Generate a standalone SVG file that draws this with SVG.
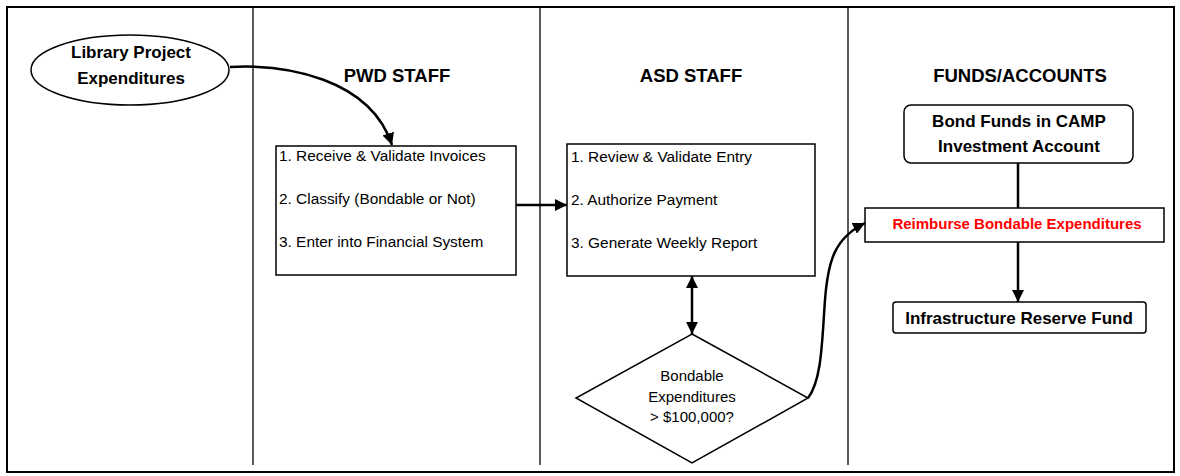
<svg xmlns="http://www.w3.org/2000/svg" width="1180" height="476" viewBox="0 0 1180 476">
<style>
text{font-family:"Liberation Sans",Arial,sans-serif;fill:#000}
.h{font-size:18.5px;font-weight:bold;text-anchor:middle}
.b{font-size:17px;font-weight:bold;text-anchor:middle}
.r{font-size:15.4px}
.c{font-size:15px;text-anchor:middle}
.red{font-size:15px;font-weight:bold;text-anchor:middle;fill:#ff0000}
.shape{fill:#fff;stroke:#000;stroke-width:1.5}
.lane{stroke:#000;stroke-width:1.3;fill:none}
.conn{stroke:#000;stroke-width:2.5;fill:none}
</style>
<defs>
<marker id="ah" markerWidth="12" markerHeight="12" refX="10" refY="5" orient="auto" markerUnits="userSpaceOnUse" viewBox="0 0 10 10">
<path d="M0,0 L10,5 L0,10 z" fill="#000"/>
</marker>
<marker id="as" markerWidth="12" markerHeight="12" refX="10" refY="5" orient="auto-start-reverse" markerUnits="userSpaceOnUse" viewBox="0 0 10 10">
<path d="M0,0 L10,5 L0,10 z" fill="#000"/>
</marker>
</defs>
<rect x="0" y="0" width="1180" height="476" fill="#fff"/>
<g id="frame">
<rect x="7" y="7" width="1167" height="465" fill="none" stroke="#000" stroke-width="2"/>
<line class="lane" x1="253" y1="8" x2="253" y2="465"/>
<line class="lane" x1="540" y1="8" x2="540" y2="465"/>
<line class="lane" x1="848" y1="8" x2="848" y2="465"/>
</g>
<g id="headers">
<text class="h" x="397" y="82">PWD STAFF</text>
<text class="h" x="691" y="82">ASD STAFF</text>
<text class="h" x="1020" y="82">FUNDS/ACCOUNTS</text>
</g>
<g id="library">
<ellipse class="shape" cx="130" cy="70" rx="99" ry="35" stroke-width="1.8"/>
<text class="b" x="131" y="58">Library Project</text>
<text class="b" x="131" y="84">Expenditures</text>
</g>
<g id="pwd">
<rect class="shape" x="276" y="146" width="240" height="129"/>
<text class="r" x="279" y="161">1. Receive &amp; Validate Invoices</text>
<text class="r" x="279" y="204">2. Classify (Bondable or Not)</text>
<text class="r" x="279" y="247">3. Enter into Financial System</text>
</g>
<g id="asd">
<rect class="shape" x="567" y="144" width="248" height="132"/>
<text class="r" x="571" y="162">1. Review &amp; Validate Entry</text>
<text class="r" x="571" y="205">2. Authorize Payment</text>
<text class="r" x="571" y="248">3. Generate Weekly Report</text>
</g>
<g id="decision">
<polygon class="shape" points="692,334 808,398 692,463 576,398"/>
<text class="c" x="692" y="381">Bondable</text>
<text class="c" x="692" y="402">Expenditures</text>
<text class="c" x="692" y="422">&gt; $100,000?</text>
</g>
<g id="bond">
<rect class="shape" x="904" y="105" width="229" height="58" rx="7"/>
<text class="b" x="1019" y="127">Bond Funds in CAMP</text>
<text class="b" x="1019" y="152">Investment Account</text>
</g>
<g id="reimburse">
<rect class="shape" x="865" y="208" width="299" height="34"/>
<text class="red" x="1017" y="229">Reimburse Bondable Expenditures</text>
</g>
<g id="reserve">
<rect class="shape" x="893" y="302" width="253" height="31" rx="3"/>
<text class="b" x="1019" y="324">Infrastructure Reserve Fund</text>
</g>
<g id="connectors">
<path class="conn" d="M230,67 C285,64 370,78 392,145" marker-end="url(#ah)"/>
<path class="conn" d="M516,205 L567,205" marker-end="url(#ah)"/>
<path class="conn" d="M692,276 L692,334" marker-start="url(#as)" marker-end="url(#as)"/>
<path class="conn" d="M808,398 C822,380 822,340 825,300 C828,260 835,238 865,223" marker-end="url(#ah)"/>
<path class="conn" d="M1018,163 L1018,208"/>
<path class="conn" d="M1018,242 L1018,302" marker-end="url(#ah)"/>
</g>
</svg>
